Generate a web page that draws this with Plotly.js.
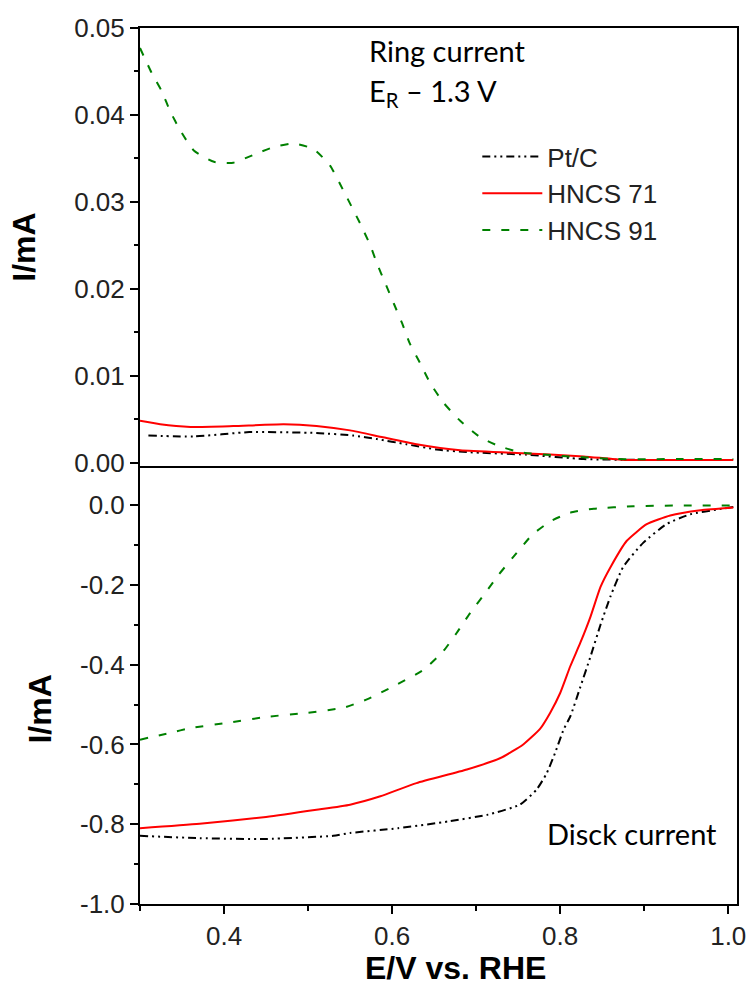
<!DOCTYPE html>
<html>
<head>
<meta charset="utf-8">
<script src="https://cdn.plot.ly/plotly-3.0.1.min.js"></script>
<style>html,body{margin:0;padding:0;background:#fff;}#chart{width:753px;height:986px;}</style>
</head>
<body>
<div id="chart"></div>
<script>
// ---- Ring current (top panel) ----
const ringE_PtC   = [0.310,0.364,0.430,0.510,0.554,0.582,0.617,0.653,0.689,0.760,0.828,0.900,1.006];
const ringI_PtC   = [0.0031,0.0030,0.0035,0.0034,0.0031,0.0027,0.0021,0.0015,0.0012,0.0009,0.0004,0.0003,0.0003];
const ringE_H71   = [0.300,0.324,0.360,0.411,0.471,0.510,0.550,0.589,0.629,0.681,0.748,0.828,0.876,0.950,1.006];
const ringI_H71   = [0.0048,0.0044,0.0041,0.0042,0.0044,0.0042,0.0037,0.0029,0.0021,0.0014,0.0011,0.0007,0.0003,0.0003,0.0003];
const ringE_H91   = [0.300,0.314,0.326,0.336,0.348,0.364,0.388,0.411,0.435,0.459,0.483,0.506,0.526,0.542,0.562,0.574,0.582,0.592,0.602,0.612,0.621,0.633,0.645,0.661,0.681,0.705,0.727,0.752,0.796,0.867,0.940,1.006];
const ringI_H91   = [0.0477,0.0448,0.0427,0.0404,0.0382,0.0359,0.0346,0.0345,0.0354,0.0363,0.0367,0.0361,0.0342,0.0313,0.0275,0.0250,0.0229,0.0206,0.0183,0.0160,0.0137,0.0115,0.0092,0.0069,0.0048,0.0029,0.0019,0.0012,0.0008,0.0004,0.0004,0.0004];

// ---- Disk current (bottom panel) ----
const diskE_PtC   = [0.300,0.371,0.450,0.530,0.550,0.607,0.667,0.714,0.752,0.772,0.784,0.794,0.804,0.812,0.824,0.836,0.848,0.860,0.875,0.899,0.927,0.955,0.987,1.006];
const diskI_PtC   = [-0.829,-0.835,-0.837,-0.829,-0.822,-0.810,-0.793,-0.776,-0.751,-0.713,-0.672,-0.621,-0.563,-0.530,-0.456,-0.380,-0.300,-0.228,-0.155,-0.094,-0.047,-0.023,-0.011,-0.005];
const diskE_H71   = [0.300,0.371,0.450,0.510,0.550,0.586,0.629,0.689,0.729,0.756,0.776,0.788,0.800,0.812,0.824,0.836,0.848,0.860,0.879,0.903,0.931,0.967,1.006];
const diskI_H71   = [-0.810,-0.799,-0.782,-0.764,-0.751,-0.730,-0.697,-0.663,-0.634,-0.600,-0.561,-0.521,-0.471,-0.404,-0.345,-0.280,-0.205,-0.155,-0.090,-0.048,-0.026,-0.013,-0.006];
const diskE_H91   = [0.300,0.336,0.360,0.407,0.450,0.498,0.542,0.570,0.602,0.638,0.661,0.677,0.693,0.711,0.727,0.745,0.767,0.789,0.812,0.840,0.887,0.947,1.006];
const diskI_H91   = [-0.588,-0.571,-0.559,-0.545,-0.531,-0.521,-0.508,-0.487,-0.454,-0.412,-0.366,-0.320,-0.270,-0.220,-0.174,-0.128,-0.074,-0.040,-0.019,-0.009,-0.003,-0.001,-0.001];

const seriesNames = ['Pt/C','HNCS 71','HNCS 91'];

// ---- tick labels ----
const xTickVals = [0.4,0.6,0.8,1.0];
const xTickText = ['0.4','0.6','0.8','1.0'];
const ringTickVals = [0.00,0.01,0.02,0.03,0.04,0.05];
const ringTickText = ['0.00','0.01','0.02','0.03','0.04','0.05'];
const diskTickVals = [-1.0,-0.8,-0.6,-0.4,-0.2,0.0];
const diskTickText = ['-1.0','-0.8','-0.6','-0.4','-0.2','0.0'];

const styles = [
  {color:'#000000', width:2, dash:'8px,4px,2px,4px,2px,4px'},
  {color:'#ff0000', width:2, dash:'solid'},
  {color:'#008000', width:2, dash:'8px,11px'}
];

const traces = [
  {x:ringE_PtC, y:ringI_PtC, xaxis:'x2', yaxis:'y2', name:seriesNames[0], line:styles[0]},
  {x:ringE_H71, y:ringI_H71, xaxis:'x2', yaxis:'y2', name:seriesNames[1], line:styles[1]},
  {x:ringE_H91, y:ringI_H91, xaxis:'x2', yaxis:'y2', name:seriesNames[2], line:styles[2]},
  {x:diskE_PtC, y:diskI_PtC, xaxis:'x', yaxis:'y', name:seriesNames[0], line:styles[0], showlegend:false},
  {x:diskE_H71, y:diskI_H71, xaxis:'x', yaxis:'y', name:seriesNames[1], line:styles[1], showlegend:false},
  {x:diskE_H91, y:diskI_H91, xaxis:'x', yaxis:'y', name:seriesNames[2], line:styles[2], showlegend:false}
].map(t => Object.assign({type:'scatter', mode:'lines', hoverinfo:'skip'}, t, {line:Object.assign({shape:'spline', smoothing:0.5}, t.line)}));

const tickFont = {family:'"Liberation Sans", Arial, sans-serif', size:26, color:'#222'};
const titleFont = {family:'"Liberation Sans", Arial, sans-serif', size:32, color:'#000', weight:'bold'};
const noteFont = {family:'Lato, "Open Sans", sans-serif', size:29, color:'#000'};

const layout = {
  width:753, height:986,
  margin:{l:140, r:16, t:28, b:82},
  paper_bgcolor:'#fff', plot_bgcolor:'#fff',
  showlegend:true,
  legend:{x:0.565, y:0.88, xanchor:'left', yanchor:'top', font:{family:'"Liberation Sans", Arial, sans-serif', size:26, color:'#222'},
          bgcolor:'rgba(0,0,0,0)', itemwidth:60, tracegroupgap:0},
  xaxis:{anchor:'y', domain:[0,1], range:[0.3,1.0104], showline:true, linecolor:'#000', linewidth:2, mirror:false,
         tickvals:xTickVals, ticktext:xTickText, ticks:'outside', ticklen:8, tickwidth:2, tickcolor:'#000',
         minor:{dtick:0.1, ticks:'outside', ticklen:5, tickwidth:2, tickcolor:'#000'},
         tickfont:tickFont, showgrid:false, zeroline:false},
  xaxis2:{anchor:'y2', matches:'x', range:[0.3,1.0104], showline:true, linecolor:'#000', linewidth:2, mirror:true,
          showticklabels:false, ticks:'', showgrid:false, zeroline:false},
  yaxis:{anchor:'x', domain:[0,0.5], range:[-1.0,0.098], showline:true, linecolor:'#000', linewidth:2, mirror:true,
         tickvals:diskTickVals, ticktext:diskTickText, ticks:'outside', ticklen:8, tickwidth:2, tickcolor:'#000',
         minor:{dtick:0.1, ticks:'outside', ticklen:4, tickwidth:2, tickcolor:'#000'},
         tickfont:tickFont, showgrid:false, zeroline:false},
  yaxis2:{anchor:'x2', domain:[0.5,1], range:[-0.0004,0.05], showline:true, linecolor:'#000', linewidth:2, mirror:true,
          tickvals:ringTickVals, ticktext:ringTickText, ticks:'outside', ticklen:8, tickwidth:2, tickcolor:'#000',
          minor:{dtick:0.005, ticks:'outside', ticklen:4, tickwidth:2, tickcolor:'#000'},
          tickfont:tickFont, showgrid:false, zeroline:false,
          title:{text:'I/mA', font:titleFont, standoff:29}},
  annotations:[
    {xref:'paper', yref:'paper', x:0.38, y:0.997, xanchor:'left', yanchor:'top', showarrow:false,
     text:'Ring current', font:noteFont},
    {xref:'paper', yref:'paper', x:0.38, y:0.951, xanchor:'left', yanchor:'top', showarrow:false,
     text:'E<sub>R</sub> – 1.3 V', font:noteFont},
    {xref:'paper', yref:'paper', x:0.97, y:0.08, xanchor:'right', yanchor:'middle', showarrow:false,
     text:'Disck current', font:noteFont},
    // bottom-panel y title and x title
    {xref:'paper', yref:'paper', x:-0.1675, y:0.222, xanchor:'center', yanchor:'middle', showarrow:false,
     textangle:-90, text:'I/mA', font:titleFont},
    {xref:'paper', yref:'paper', x:0.529, y:-0.0727, xanchor:'center', yanchor:'middle', showarrow:false,
     text:'E/V vs. RHE', font:titleFont}
  ]
};

Plotly.newPlot('chart', traces, layout, {staticPlot:true, displayModeBar:false});
</script>
</body>
</html>
